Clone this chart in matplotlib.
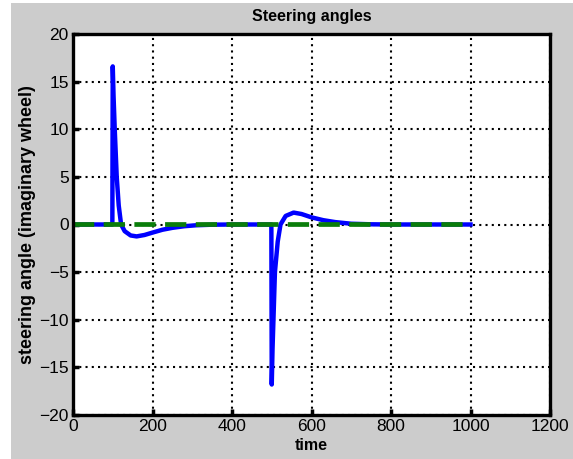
import matplotlib
matplotlib.use("Agg")
import matplotlib.pyplot as plt
from matplotlib.patches import Rectangle

plt.rcParams['font.family'] = ['Liberation Sans', 'DejaVu Sans']

# steering angle response
t_steer = [0, 99, 100, 102, 105, 110, 115, 121, 130, 145, 160, 180, 200, 225, 250,
           280, 310, 350, 400, 499, 500, 502, 505, 508, 515, 522, 535, 555, 575,
           600, 630, 660, 700, 750, 800, 1000]
angle = [0, 0, 16.6, 13.5, 10, 5, 2, 0, -0.7, -1.15, -1.25, -1.1, -0.85, -0.55, -0.35,
         -0.18, -0.08, -0.02, 0, 0, -16.8, -13, -9, -5, -1.8, 0, 0.9, 1.25, 1.1,
         0.75, 0.45, 0.25, 0.08, 0.02, 0, 0]

# reference (zero) angle
t_ref = [0, 1000]
ref = [0, 0]

fig = plt.figure(figsize=(5.73, 4.59), dpi=100, facecolor='white')
fig.patches.append(Rectangle((11 / 573, 0), 1, 1 - 3 / 459, transform=fig.transFigure,
                             facecolor='#cccccc', edgecolor='none', zorder=-1))
ax = fig.add_axes([73 / 573, 44 / 459, 477 / 573, 381 / 459])

ax.plot(t_steer, angle, color='#0000ff', linewidth=3.2, solid_joinstyle='round', snap=False)
ax.plot(t_ref, ref, color='#0a7d0a', linewidth=3.4, linestyle=(0, (4.5, 2)), snap=False)

ax.set_xlim(0, 1200)
ax.set_ylim(-20, 20)
ax.set_xticks(range(0, 1201, 200))
ax.set_yticks(range(-20, 21, 5))
ax.grid(True, color='black', linestyle=(0, (1, 2)), linewidth=1.5)
ax.tick_params(direction='in', length=4, width=2.5, labelsize=12.5, pad=3)
for s in ax.spines.values():
    s.set_linewidth(2.4)

ax.set_title('Steering angles', fontsize=11.5, fontweight='bold', pad=9)
ax.set_xlabel('time', fontsize=11.5, fontweight='bold', labelpad=3)
ax.set_ylabel('steering angle (imaginary wheel)', fontsize=13, fontweight='bold', labelpad=2)

fig.savefig('out.png', dpi=100, facecolor=fig.get_facecolor())
